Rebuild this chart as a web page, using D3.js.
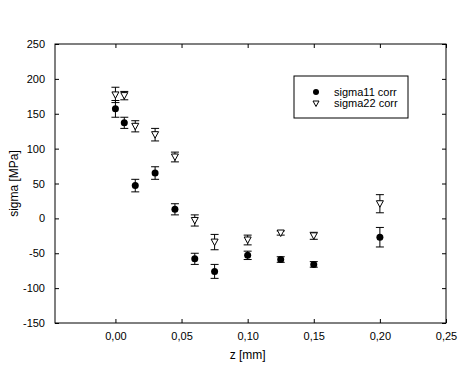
<!DOCTYPE html>
<html>
<head>
<meta charset="utf-8">
<script src="https://d3js.org/d3.v7.min.js"></script>
<style>
  body { margin: 0; background: #fff; }
  svg { font-family: "Liberation Sans", Arial, sans-serif; }
</style>
</head>
<body>
<svg id="chart" width="470" height="370"></svg>
<script>
// z positions [mm]
var zVals = [0, 0.0067, 0.015, 0.03, 0.045, 0.06, 0.075, 0.10, 0.125, 0.15, 0.20];
// sigma11 corr
var s11 = [157, 137, 47, 65, 13, -58, -76, -53, -59, -66, -27];
var s11Err = [12, 8, 9, 9, 8, 8, 10, 6, 4, 4, 14];
// sigma22 corr
var s22 = [177, 176, 132, 120, 88, -3, -34, -31, -21, -25, 21];
var s22Err = [11, 6, 8, 9, 7, 8, 11, 7, 3, 5, 13];

var xTicks = [0, 0.05, 0.10, 0.15, 0.20, 0.25];
var yTicks = [-150, -100, -50, 0, 50, 100, 150, 200, 250];
var legendNames = ["sigma11 corr", "sigma22 corr"];

var margin = {top: 44, right: 24, bottom: 47, left: 55};
var width = 470 - margin.left - margin.right,
    height = 370 - margin.top - margin.bottom;

var svg = d3.select("#chart");
var g = svg.append("g")
    .attr("transform", "translate(" + margin.left + "," + margin.top + ")");

var x = d3.scaleLinear().domain([-0.0457, 0.25]).range([0, width]);
var y = d3.scaleLinear().domain([-150, 250]).range([height, 0]);

var fmtX = function(d) { return d.toFixed(2).replace(".", ","); };
var fmtY = function(d) { return String(d); };

// frame
g.append("rect")
  .attr("x", 0).attr("y", 0)
  .attr("width", width).attr("height", height)
  .style("fill", "none").style("stroke", "#000").style("stroke-width", 1);

// axes with inside ticks
var axBottom = g.append("g")
  .attr("transform", "translate(0," + height + ")")
  .call(d3.axisBottom(x).tickValues(xTicks).tickSize(-4).tickPadding(9).tickFormat(fmtX));
var axTop = g.append("g")
  .call(d3.axisTop(x).tickValues(xTicks).tickSize(-4).tickFormat(""));
var axLeft = g.append("g")
  .call(d3.axisLeft(y).tickValues(yTicks).tickSize(-4).tickPadding(10).tickFormat(fmtY));
var axRight = g.append("g")
  .attr("transform", "translate(" + width + ",0)")
  .call(d3.axisRight(y).tickValues(yTicks).tickSize(-4).tickFormat(""));

[axBottom, axTop, axLeft, axRight].forEach(function(a) {
  a.select(".domain").remove();
  a.selectAll("line").style("stroke", "#000");
  a.selectAll("text").style("font-size", "11px").style("fill", "#000")
    .style("font-family", "'Liberation Sans', Arial, sans-serif");
});

// axis titles
svg.append("text")
  .attr("x", margin.left + x(0.10))
  .attr("y", 359)
  .attr("text-anchor", "middle")
  .style("font-size", "12px")
  .text("z [mm]");

svg.append("text")
  .attr("transform", "translate(18," + (margin.top + height / 2) + ") rotate(-90)")
  .attr("text-anchor", "middle")
  .style("font-size", "12px")
  .text("sigma [MPa]");

// error bars
function errorBars(vals, errs) {
  var cap = 4;
  var eg = g.append("g");
  vals.forEach(function(v, i) {
    var cx = x(zVals[i]);
    var y1 = y(v + errs[i]), y2 = y(v - errs[i]);
    eg.append("line").attr("x1", cx).attr("x2", cx).attr("y1", y1).attr("y2", y2)
      .style("stroke", "#000");
    eg.append("line").attr("x1", cx - cap).attr("x2", cx + cap).attr("y1", y1).attr("y2", y1)
      .style("stroke", "#000");
    eg.append("line").attr("x1", cx - cap).attr("x2", cx + cap).attr("y1", y2).attr("y2", y2)
      .style("stroke", "#000");
  });
}
errorBars(s22, s22Err);
errorBars(s11, s11Err);

var tri = "M-3.5,-3 L3.5,-3 L0,3.5 Z";

g.selectAll("path.s22").data(s22).enter().append("path")
  .attr("class", "s22")
  .attr("d", tri)
  .attr("transform", function(d, i) { return "translate(" + x(zVals[i]) + "," + y(d) + ")"; })
  .style("fill", "#fff").style("stroke", "#000");

g.selectAll("circle.s11").data(s11).enter().append("circle")
  .attr("class", "s11")
  .attr("cx", function(d, i) { return x(zVals[i]); })
  .attr("cy", function(d) { return y(d); })
  .attr("r", 3.5)
  .style("fill", "#000");

// legend
var lg = svg.append("g").attr("transform", "translate(294,76)");
lg.append("rect").attr("width", 114).attr("height", 42)
  .style("fill", "#fff").style("stroke", "#000");
lg.append("circle").attr("cx", 22).attr("cy", 16).attr("r", 3).style("fill", "#000");
lg.append("path").attr("d", "M-3,-2.5 L3,-2.5 L0,3 Z")
  .attr("transform", "translate(22,27.5)")
  .style("fill", "#fff").style("stroke", "#000");
lg.selectAll("text.lab").data(legendNames).enter().append("text")
  .attr("class", "lab")
  .attr("x", 40)
  .attr("y", function(d, i) { return 20 + i * 11; })
  .style("font-size", "11px")
  .text(function(d) { return d; });
</script>
</body>
</html>
